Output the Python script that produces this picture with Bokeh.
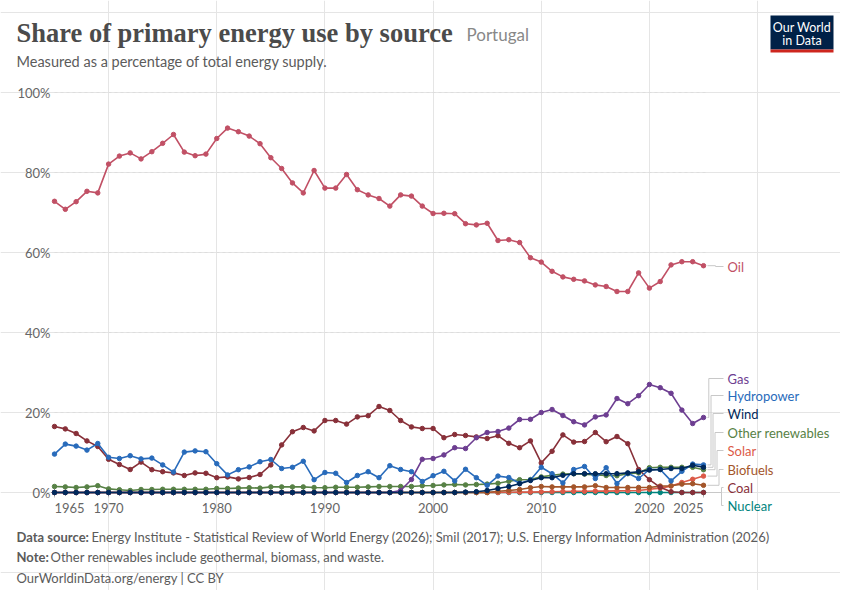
from bokeh.plotting import figure
from bokeh.models import Range1d
from bokeh.core.properties import value
from bokeh.embed import file_html
from bokeh.resources import INLINE

# ---------------- data ----------------
years = list(range(1965, 2026))

oil = [72.8, 70.8, 72.7, 75.3, 74.9, 82.1, 84.1, 84.9, 83.4, 85.2,
       87.3, 89.5, 85.1, 84.2, 84.6, 88.5, 91.1, 90.2, 89.1, 87.2,
       83.7, 81.0, 77.4, 74.9, 80.5, 76.1, 76.1, 79.5, 75.7, 74.4,
       73.5, 71.6, 74.4, 74.1, 71.6, 69.75, 69.8, 69.7, 67.2, 66.9,
       67.3, 63.0, 63.2, 62.5, 58.7, 57.6, 55.3, 53.9, 53.3, 52.9,
       51.9, 51.5, 50.25, 50.25, 54.9, 51.1, 52.75, 56.9, 57.7, 57.7,
       56.7]

coal = [16.5, 15.9, 14.75, 12.9, 11.5, 8.3, 7.0, 5.75, 7.6, 5.7,
        5.2, 4.9, 4.25, 4.9, 4.8, 3.7, 3.9, 3.4, 3.75, 4.5,
        6.9, 11.9, 15.2, 16.25, 15.4, 18.0, 18.0, 17.1, 18.9, 19.2,
        21.5, 20.5, 18.0, 16.4, 16.0, 16.0, 13.7, 14.5, 14.25, 13.9,
        13.5, 14.2, 12.3, 11.2, 12.9, 7.4, 10.3, 14.4, 12.6, 12.75,
        15.0, 12.7, 14.0, 12.2, 5.75, 3.2, 1.3, 0.2, 0.0, 0.0,
        0.0]

hydropower = [9.6, 12.1, 11.6, 10.6, 12.25, 8.8, 8.5, 9.2, 8.4, 8.6,
              6.9, 5.1, 10.1, 10.4, 10.2, 7.2, 4.4, 5.7, 6.4, 7.7,
              8.25, 6.0, 6.3, 7.8, 3.2, 5.0, 4.8, 2.5, 4.25, 5.2,
              3.7, 6.7, 5.75, 5.2, 2.75, 4.2, 5.3, 2.9, 5.8, 3.7,
              1.8, 4.1, 3.75, 2.3, 3.1, 6.3, 4.7, 2.4, 5.75, 6.5,
              3.5, 6.2, 2.25, 4.8, 3.5, 5.75, 5.75, 2.9, 5.3, 7.1,
              6.9]

other_renewables = [1.5, 1.4, 1.25, 1.4, 1.7, 0.9, 0.7, 0.5, 0.75, 0.75,
                    0.8, 0.8, 0.8, 0.8, 0.8, 1.0, 1.0, 1.1, 1.2, 1.1,
                    1.4, 1.4, 1.4, 1.4, 1.25, 1.2, 1.3, 1.3, 1.3, 1.4,
                    1.5, 1.5, 1.5, 1.5, 1.7, 1.75, 1.9, 2.0, 1.9, 2.0,
                    2.1, 2.3, 2.8, 3.2, 3.25, 3.9, 4.3, 4.6, 4.7, 4.6,
                    4.4, 4.25, 4.2, 4.7, 4.9, 6.2, 6.3, 6.3, 6.3, 6.3,
                    5.7]

gas = [0.0] * 32 + [0.5, 3.25, 8.3, 8.5, 9.4, 11.2, 11.0, 13.7,
                    15.0, 15.25, 16.1, 18.25, 18.3, 20.0, 20.75, 19.25, 17.7, 16.9,
                    18.9, 19.4, 23.5, 22.2, 24.2, 27.0, 26.2, 24.8, 20.6, 17.25,
                    18.75]

wind = [0.0] * 38 + [0.1, 0.2, 0.5, 1.0, 1.5, 2.2, 3.0, 3.7, 3.7, 4.3,
                     4.7, 4.7, 4.7, 4.7, 4.7, 4.9, 5.2, 5.6, 5.75, 6.0,
                     6.0, 6.8, 6.3]

solar = [0.0] * 42 + [0.05, 0.1, 0.1, 0.15, 0.2, 0.25, 0.3, 0.3,
                      0.35, 0.35, 0.4, 0.45, 0.5, 0.8, 1.1, 1.6, 2.5, 3.3,
                      4.1]

biofuels = [0.0] * 41 + [0.3, 0.5, 0.75, 1.2, 1.5, 1.4, 1.4, 1.4, 1.4,
                         1.7, 1.25, 1.25, 1.25, 1.25, 1.25, 1.6, 1.7, 2.1, 2.2,
                         1.8]

nuclear = [0.0] * 61

y_ticks = [0, 20, 40, 60, 80, 100]
y_tick_labels = ["0%", "20%", "40%", "60%", "80%", "100%"]
x_ticks = [1965, 1970, 1980, 1990, 2000, 2010, 2020, 2025]
x_tick_labels = ["1965", "1970", "1980", "1990", "2000", "2010", "2020", "2025"]

# ---------------- layout helpers (pixel -> data) ----------------
W, H = 840, 590
SX = (703 - 54) / 60.0
SY = 4.0
X0 = 1965 - 54 / SX
YTOP = 492 / SY


def px(xr):
    return X0 + xr / SX


def py(yr):
    return YTOP - yr / SY


p = figure(width=W, height=H, title=None,
           x_range=Range1d(X0, X0 + W / SX),
           y_range=Range1d(YTOP - H / SY, YTOP),
           output_backend="svg", toolbar_location=None,
           x_axis_location=None, y_axis_location=None,
           min_border=0, outline_line_color=None,
           background_fill_color="white", border_fill_color="white")

LATO = value("Lato")
TICK_COL = "#666666"

# grid lines
grid_y = y_ticks[1:]
p.segment(x0=[1965] * len(grid_y), x1=[px(708)] * len(grid_y), y0=grid_y, y1=grid_y,
          line_color="#dddddd", line_width=1, line_dash="3 3")
p.segment(x0=[1965], x1=[px(708)], y0=[0], y1=[0], line_color="#cccccc", line_width=1)

# x axis tick marks
p.segment(x0=x_ticks, x1=x_ticks, y0=[0] * len(x_ticks), y1=[py(497)] * len(x_ticks),
          line_color="#bbbbbb", line_width=1)

# y tick labels
p.text(x=[px(50)] * len(y_ticks), y=y_ticks, text=y_tick_labels, text_font=LATO,
       text_font_size="13px", text_color=TICK_COL, text_align="right", text_baseline="middle")

# x tick labels
aligns = ["left"] + ["center"] * (len(x_ticks) - 2) + ["right"]
for xt, lab, al in zip(x_ticks, x_tick_labels, aligns):
    p.text(x=[xt], y=[py(507)], text=[lab], text_font=LATO, text_font_size="13px",
           text_color=TICK_COL, text_align=al, text_baseline="middle")

# series (drawn bottom -> top)
series = [
    ("Nuclear", nuclear, "#00847E"),
    ("Solar", solar, "#DC5A48"),
    ("Biofuels", biofuels, "#A3552A"),
    ("Coal", coal, "#883039"),
    ("Other renewables", other_renewables, "#578145"),
    ("Hydropower", hydropower, "#286BBB"),
    ("Gas", gas, "#6D3E91"),
    ("Oil", oil, "#C15065"),
    ("Wind", wind, "#00295B"),
]
for name, vals, col in series:
    p.line(years, vals, line_color=col, line_width=1.6)
    p.scatter(years, vals, size=4.5, fill_color=col, line_color=col)

colors = {n: c for n, _, c in series}
ends = {n: v[-1] for n, v, _ in series}

# end labels with connectors: (name, label y in px, elbow x in px)
label_layout = [
    ("Oil", 266, 715),
    ("Gas", 378, 708.3),
    ("Hydropower", 395, 710.5),
    ("Wind", 413, 712.5),
    ("Other renewables", 432, 714.5),
    ("Solar", 450, 716.5),
    ("Biofuels", 469, 718.5),
    ("Coal", 487, 721),
    ("Nuclear", 505, 721),
]
xs, ys = [], []
for name, ly, ex in label_layout:
    xs.append([px(707), px(ex), px(ex), px(723)])
    ys.append([ends[name], ends[name], py(ly), py(ly)])
p.multi_line(xs, ys, line_color="#c8c8c8", line_width=1)
for name, ly, ex in label_layout:
    p.text(x=[px(727)], y=[py(ly)], text=[name], text_font=LATO, text_font_size="13px",
           text_color=colors[name], text_align="left", text_baseline="middle")

# title / subtitle
p.text(x=[px(16)], y=[py(32)], text=["Share of primary energy use by source"],
       text_font=value("Liberation Serif"), text_font_size="26.5px", text_font_style="bold",
       text_color="#4b4b4b", text_align="left", text_baseline="middle")
p.text(x=[px(466)], y=[py(34)], text=["Portugal"], text_font=LATO, text_font_size="17px",
       text_color="#888888", text_align="left", text_baseline="middle")
p.text(x=[px(16)], y=[py(61)], text=["Measured as a percentage of total energy supply."],
       text_font=LATO, text_font_size="14.5px", text_color="#5b5b5b",
       text_align="left", text_baseline="middle")

# logo
p.quad(left=[px(770)], right=[px(833)], top=[py(15)], bottom=[py(49)],
       fill_color="#002147", line_color=None)
p.quad(left=[px(770)], right=[px(833)], top=[py(49)], bottom=[py(52)],
       fill_color="#CE261E", line_color=None)
p.text(x=[px(801.5), px(801.5)], y=[py(27), py(40)], text=["Our World", "in Data"],
       text_font=LATO, text_font_size="12.5px", text_color="white",
       text_align="center", text_baseline="middle")

# footer
FOOT = "#5b5b5b"
p.text(x=[px(16)], y=[py(536)], text=["Data source:"], text_font=LATO, text_font_size="13px",
       text_font_style="bold", text_color=FOOT, text_align="left", text_baseline="middle")
p.text(x=[px(91)], y=[py(536)],
       text=["Energy Institute - Statistical Review of World Energy (2026); Smil (2017); U.S. Energy Information Administration (2026)"],
       text_font=LATO, text_font_size="13px", text_color=FOOT, text_align="left", text_baseline="middle")
p.text(x=[px(16)], y=[py(556)], text=["Note:"], text_font=LATO, text_font_size="13px",
       text_font_style="bold", text_color=FOOT, text_align="left", text_baseline="middle")
p.text(x=[px(50)], y=[py(556)], text=["Other renewables include geothermal, biomass, and waste."],
       text_font=LATO, text_font_size="13px", text_color=FOOT, text_align="left", text_baseline="middle")
p.text(x=[px(16)], y=[py(577)], text=["OurWorldinData.org/energy | CC BY"],
       text_font=LATO, text_font_size="13px", text_color=FOOT, text_align="left", text_baseline="middle")

open("out.html", "w").write(file_html(p, INLINE))
